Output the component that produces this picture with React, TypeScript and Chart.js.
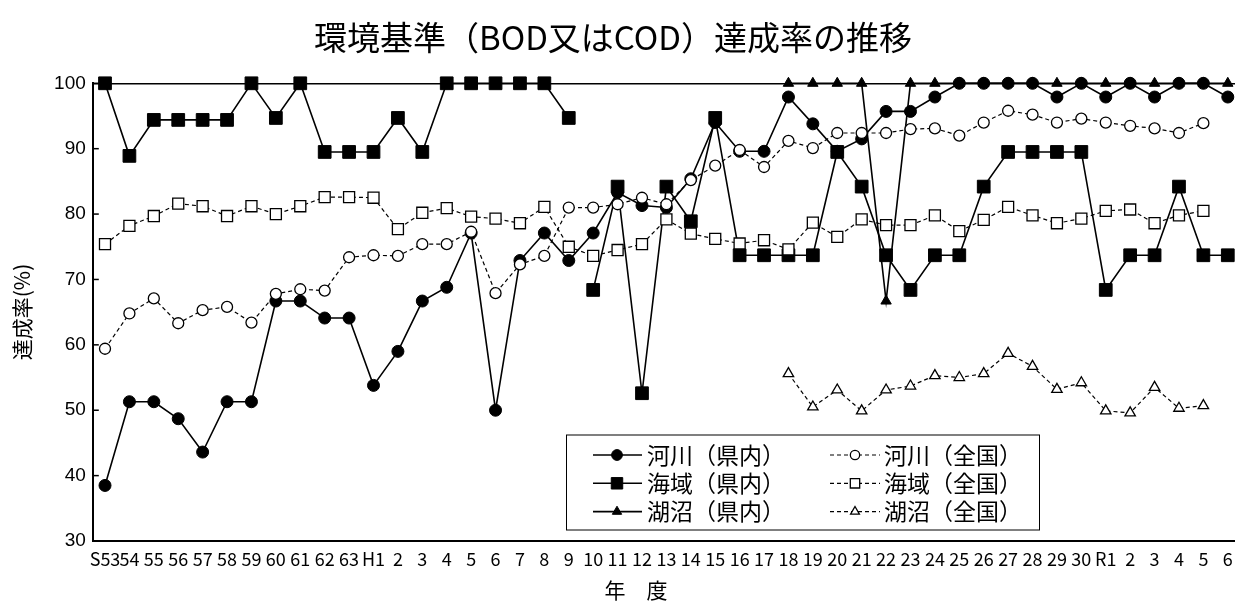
import React, { useEffect, useRef } from 'react';
import { Chart, registerables } from 'chart.js';
import { drawPoint } from 'chart.js/helpers';

Chart.register(...registerables);

// ---- data ----
const categories = [
  'S53', '54', '55', '56', '57', '58', '59', '60', '61', '62', '63',
  'H1', '2', '3', '4', '5', '6', '7', '8', '9', '10', '11', '12', '13', '14', '15', '16', '17', '18', '19', '20',
  '21', '22', '23', '24', '25', '26', '27', '28', '29', '30',
  'R1', '2', '3', '4', '5', '6',
];

const riverPref = [
  38.5, 51.3, 51.3, 48.7, 43.6, 51.3, 51.3, 66.7, 66.7, 64.1, 64.1,
  53.8, 59.0, 66.7, 68.8, 77.1, 50.0, 72.9, 77.1, 72.9, 77.1, 83.3, 81.3, 81.0, 85.4, 94.0, 89.6, 89.6, 97.9, 93.8, 89.6,
  91.5, 95.7, 95.7, 97.9, 100, 100, 100, 100, 97.9, 100,
  97.9, 100, 97.9, 100, 100, 97.9,
];

const seaPref = [
  100, 88.9, 94.4, 94.4, 94.4, 94.4, 100, 94.7, 100, 89.5, 89.5,
  89.5, 94.7, 89.5, 100, 100, 100, 100, 100, 94.7, 68.4, 84.2, 52.6, 84.2, 78.9, 94.7, 73.7, 73.7, 73.7, 73.7, 89.5,
  84.2, 73.7, 68.4, 73.7, 73.7, 84.2, 89.5, 89.5, 89.5, 89.5,
  68.4, 73.7, 73.7, 84.2, 73.7, 73.7,
];
// the sea (prefecture) line is not joined between H9 ("9") and H10
const seaPrefBreakAfter = '9';

const lakePref = [
  null, null, null, null, null, null, null, null, null, null, null,
  null, null, null, null, null, null, null, null, null, null, null, null, null, null, null, null, null, 100, 100, 100,
  100, 66.7, 100, 100, 100, 100, 100, 100, 100, 100,
  100, 100, 100, 100, 100, 100,
];

const riverNational = [
  59.4, 64.8, 67.1, 63.3, 65.3, 65.8, 63.4, 67.8, 68.5, 68.3, 73.4,
  73.7, 73.6, 75.4, 75.4, 77.3, 67.9, 72.3, 73.6, 81.0, 81.0, 81.5, 82.5, 81.5, 85.2, 87.4, 89.8, 87.2, 91.2, 90.1, 92.4,
  92.4, 92.4, 93.0, 93.1, 92.0, 94.0, 95.8, 95.2, 94.0, 94.6,
  94.0, 93.5, 93.1, 92.4, 93.9, null,
];

const seaNational = [
  75.4, 78.2, 79.7, 81.6, 81.2, 79.7, 81.2, 80.0, 81.2, 82.6, 82.6,
  82.5, 77.7, 80.2, 80.9, 79.6, 79.3, 78.6, 81.1, 75.0, 73.6, 74.5, 75.4, 79.2, 77.0, 76.2, 75.5, 76.0, 74.6, 78.7, 76.5,
  79.2, 78.3, 78.3, 79.8, 77.4, 79.1, 81.1, 79.8, 78.6, 79.3,
  80.5, 80.7, 78.6, 79.8, 80.5, null,
];

const lakeNational = [
  null, null, null, null, null, null, null, null, null, null, null,
  null, null, null, null, null, null, null, null, null, null, null, null, null, null, null, null, null, 55.6, 50.5, 53.1,
  49.9, 53.1, 53.7, 55.3, 55.0, 55.6, 58.7, 56.7, 53.2, 54.2,
  49.9, 49.6, 53.5, 50.3, 50.7, null,
];

const yTicks = [30, 40, 50, 60, 70, 80, 90, 100];

const titleText = '環境基準（BOD又はCOD）達成率の推移';
const yTitle = '達成率(%)';
const xTitle = '年　度';
const seriesLabels = ['河川（県内）', '海域（県内）', '湖沼（県内）', '河川（全国）', '海域（全国）', '湖沼（全国）'];

const FONT = '"Noto Sans CJK JP", "Noto Sans CJK SC", sans-serif';
const NUM_FONT = '"Liberation Sans Narrow", "Noto Sans CJK JP", sans-serif';

// inward tick marks on the value axis
const innerTicksPlugin = {
  id: 'innerTicks',
  beforeDatasetsDraw(chart: any) {
    const ys = chart.scales.y;
    const { ctx, chartArea } = chart;
    ctx.save();
    ctx.strokeStyle = '#000';
    ctx.lineWidth = 1.5;
    ys.ticks.forEach((t: any) => {
      const py = ys.getPixelForValue(t.value);
      ctx.beginPath();
      ctx.moveTo(chartArea.left, py);
      ctx.lineTo(chartArea.left + 6, py);
      ctx.stroke();
    });
    ctx.restore();
  },
};

// chart title and axis titles
const titlesPlugin = {
  id: 'titles',
  afterDraw(chart: any, _args: any, opts: any) {
    const { ctx } = chart;
    ctx.save();
    ctx.fillStyle = '#000';
    ctx.textAlign = 'center';
    ctx.textBaseline = 'middle';
    (opts.items as any[]).forEach((it) => {
      ctx.save();
      ctx.translate(it.x, it.y);
      ctx.rotate(it.rotate || 0);
      ctx.font = `${it.size}px ${FONT}`;
      ctx.fillText(it.text, 0, 0);
      ctx.restore();
    });
    ctx.restore();
  },
};

// boxed two-column legend inside the plot
const boxLegendPlugin = {
  id: 'boxLegend',
  afterDraw(chart: any, _args: any, opts: any) {
    const { ctx } = chart;
    ctx.save();
    ctx.strokeStyle = '#000';
    ctx.lineWidth = 1;
    ctx.setLineDash([]);
    ctx.strokeRect(opts.left, opts.top, opts.width, opts.height);
    (opts.items as number[]).forEach((dsIndex, k) => {
      const row = Math.floor(k / 2);
      const col = opts.cols[k % 2];
      const ds = chart.data.datasets[dsIndex];
      const cy = opts.top + opts.firstRow + row * opts.rowGap;
      ctx.beginPath();
      ctx.setLineDash(ds.borderDash || []);
      ctx.lineWidth = ds.borderWidth;
      ctx.strokeStyle = '#000';
      ctx.moveTo(col.lineStart, cy);
      ctx.lineTo(col.lineEnd, cy);
      ctx.stroke();
      ctx.setLineDash([]);
      ctx.fillStyle = ds.pointBackgroundColor;
      ctx.strokeStyle = ds.pointBorderColor;
      ctx.lineWidth = ds.pointBorderWidth;
      drawPoint(ctx, {
        pointStyle: ds.pointStyle,
        rotation: 0,
        radius: ds.pointRadius * col.scale,
        borderWidth: ds.pointBorderWidth,
      } as any, col.marker, cy);
      ctx.fillStyle = '#000';
      ctx.font = `${opts.fontSize}px ${FONT}`;
      ctx.textBaseline = 'middle';
      ctx.textAlign = 'left';
      ctx.fillText(ds.label, col.text, cy);
    });
    ctx.restore();
  },
};

export default function App() {
  const ref = useRef<HTMLCanvasElement>(null);

  useEffect(() => {
    document.body.style.margin = '0';
    const canvas = ref.current!;
    const breakIndex = categories.indexOf(seaPrefBreakAfter);

    const solid = {
      borderColor: '#000',
      borderWidth: 1.6,
      pointBorderColor: '#000',
      pointBorderWidth: 1,
      pointBackgroundColor: '#000',
      tension: 0,
      spanGaps: false,
      clip: false,
    };
    const dashed = {
      borderColor: '#000',
      borderWidth: 1.2,
      borderDash: [4, 3],
      pointBorderColor: '#000',
      pointBorderWidth: 1.3,
      pointBackgroundColor: '#fff',
      tension: 0,
      spanGaps: false,
      clip: false,
    };

    const chart = new Chart(canvas, {
      type: 'line',
      data: {
        labels: categories,
        datasets: [
          { ...solid, label: seriesLabels[0], data: riverPref, pointStyle: 'circle', pointRadius: 6, order: 5 },
          {
            ...solid, label: seriesLabels[1], data: seaPref, pointStyle: 'rect', pointRadius: 9, order: 4,
            segment: { borderColor: (c: any) => (c.p0DataIndex === breakIndex ? 'rgba(0,0,0,0)' : undefined) },
          },
          { ...solid, label: seriesLabels[2], data: lakePref, pointStyle: 'triangle', pointRadius: 6, order: 3 },
          { ...dashed, label: seriesLabels[3], data: riverNational, pointStyle: 'circle', pointRadius: 5.5, order: 2 },
          { ...dashed, label: seriesLabels[4], data: seaNational, pointStyle: 'rect', pointRadius: 7.8, order: 1 },
          { ...dashed, label: seriesLabels[5], data: lakeNational, pointStyle: 'triangle', pointRadius: 6, order: 0 },
        ] as any,
      },
      options: {
        responsive: false,
        animation: false,
        devicePixelRatio: 1,
        layout: { padding: { left: 0, right: 8, top: 83.3, bottom: 24.4 } },
        plugins: {
          legend: { display: false },
          tooltip: { enabled: false },
          title: { display: false },
          titles: {
            items: [
              { text: titleText, x: 613, y: 37, size: 33 },
              { text: xTitle, x: 636, y: 590, size: 21 },
              { text: yTitle, x: 22, y: 312, size: 21, rotate: -Math.PI / 2 },
            ],
          },
          boxLegend: {
            left: 566.5, top: 435, width: 473, height: 95,
            firstRow: 20, rowGap: 28.3, fontSize: 23,
            items: [0, 3, 1, 4, 2, 5],
            cols: [
              { lineStart: 593, lineEnd: 642, marker: 617, text: 647, scale: 0.9 },
              { lineStart: 830, lineEnd: 880, marker: 855, text: 884, scale: 0.85 },
            ],
          },
        } as any,
        scales: {
          x: {
            type: 'category',
            offset: true,
            ticks: { autoSkip: false, maxRotation: 0, minRotation: 0, color: '#000', font: { size: 18, family: NUM_FONT }, padding: 7 },
            grid: { display: false, drawTicks: false },
            border: { display: true, color: '#000', width: 2 },
            afterFit: (s: any) => { s.height = 38.6; },
          },
          y: {
            type: 'linear',
            min: yTicks[0],
            max: yTicks[yTicks.length - 1],
            afterBuildTicks: (s: any) => { s.ticks = yTicks.map((v) => ({ value: v })); },
            ticks: { color: '#000', font: { size: 19, family: '"Liberation Sans", "Noto Sans CJK JP", sans-serif' }, padding: 7 },
            grid: {
              drawTicks: false,
              lineWidth: 1.5,
              color: (c: any) => (c.tick && c.tick.value === 100 ? '#000' : 'rgba(0,0,0,0)'),
            },
            border: { display: true, color: '#000', width: 2 },
            title: { display: false },
            afterFit: (s: any) => { s.width = 92.8; },
          },
        } as any,
      },
      plugins: [innerTicksPlugin, boxLegendPlugin, titlesPlugin],
    });

    return () => chart.destroy();
  }, []);

  return (
    <div style={{ position: 'fixed', left: 0, top: 0, width: 1235, height: 604, overflow: 'hidden', background: '#fff' }}>
      <canvas ref={ref} width={1250} height={604} style={{ display: 'block', width: 1250, height: 604 }} />
    </div>
  );
}
